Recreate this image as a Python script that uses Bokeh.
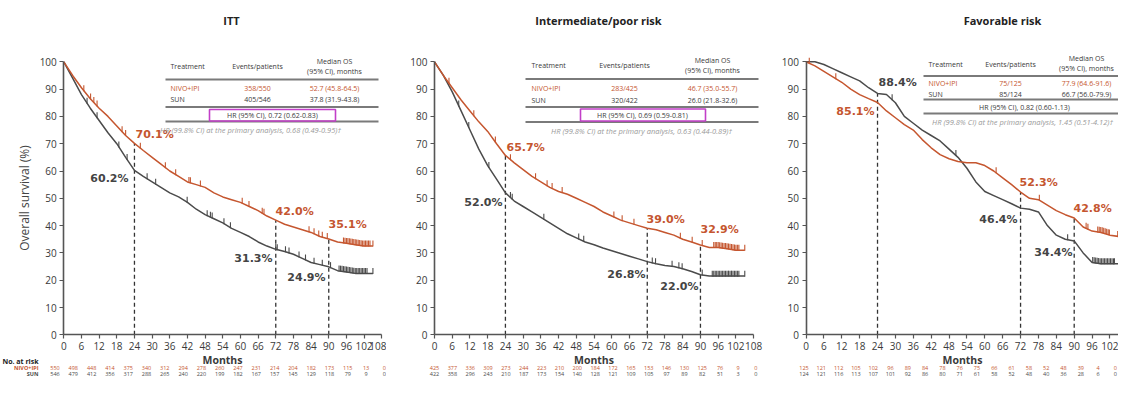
import numpy as np
from bokeh.plotting import figure
from bokeh.layouts import row
from bokeh.models import Range1d, FixedTicker
from bokeh.core.properties import value
from bokeh.embed import file_html
from bokeh.resources import INLINE

# ------------------------------------------------------------------ data
titles = ["ITT", "Intermediate/poor risk", "Favorable risk"]
arms = ["NIVO+IPI", "SUN"]

months = [0, 3, 6, 9, 12, 15, 18, 21, 24, 27, 30, 33, 36, 39, 42, 45, 48, 51,
          54, 57, 60, 63, 66, 69, 72, 75, 78, 81, 84, 87, 90, 93, 96, 99, 102, 105]

itt_nivo = [100, 95, 90.5, 86.5, 83, 80, 76.5, 73, 70.1, 67.5, 65, 62.5, 60, 58, 56, 55, 54, 52,
            50.5, 49.5, 48.5, 47, 45.5, 43.5, 42.0, 40.5, 39.5, 38.5, 37.5, 36, 35.1, 34, 33.5, 33, 32.5, 32.5]
itt_sun = [100, 94, 88, 83, 78.5, 74, 70, 65, 60.2, 58, 56, 54, 52, 50.5, 48.5, 46, 44, 42.5,
           41, 39, 37.5, 36, 34, 32.5, 31.3, 30.5, 29.5, 28, 26.5, 25.7, 24.9, 23.5, 23, 22.5, 22.5, 22.5]
ip_nivo = [100, 95, 90.5, 86, 82, 78, 74.5, 70, 65.7, 63, 60.5, 58, 56, 54, 52.5, 51.5, 50, 48.5,
           47, 45, 43.5, 42, 41, 40, 39.0, 38.5, 37.5, 36.5, 35, 34, 32.9, 32, 32, 31.5, 31, 31]
ip_sun = [100, 95, 89, 82, 75, 68, 62, 57, 52.0, 49, 47, 45, 43, 41, 39, 37, 35.5, 34,
          33, 31.8, 30.8, 29.8, 28.8, 27.8, 26.8, 26, 25.4, 25, 24.2, 23.2, 22.0, 21.5, 21.5, 21.5, 21.5, 21.5]
fav_nivo = [100, 98.5, 96.5, 94.5, 92.5, 90, 88, 86.5, 85.1, 82, 79.5, 77, 75, 71.5, 68.5, 66, 64.5, 63.5,
            63, 63, 62, 60, 57.5, 55, 52.3, 50, 49.5, 47.5, 45.5, 44, 42.8, 39.5, 38, 37.5, 36.5, 36]
fav_sun = [100, 100, 99, 97.5, 96, 94.5, 93, 90.5, 88.4, 88, 85, 80, 77.5, 75, 73, 71, 68, 65,
           61, 56, 52.5, 51, 49.5, 48, 46.4, 46, 45, 40, 36.5, 35, 34.4, 30, 26.5, 26, 26, 26]

# censored observations (months)
itt_nivo_cens = [6.8, 9.1, 10.2, 11.3, 19.8, 21, 26, 34.5, 38, 42.5, 43, 46.4, 60.6, 62.9, 67.4, 68,
                 83.3, 85, 86.6, 87.8, 89.5, 95, 95.5, 96, 96.5, 97, 97.5, 98, 98.5, 99, 99.5, 100,
                 100.5, 101, 101.5, 102, 102.5, 103, 103.5, 104, 105]
itt_sun_cens = [7.9, 11.3, 18.7, 21.5, 28.3, 31.2, 41.9, 48.7, 49.8, 50.4, 54.4, 56.6, 72, 72.5, 75.3,
                76.5, 79.9, 82.1, 85, 87.8, 90.6, 93.5, 94, 94.5, 95, 95.5, 96, 96.5, 97, 97.5, 98,
                98.5, 99, 99.5, 100, 100.5, 101, 101.5, 102, 102.5, 103, 105]
ip_nivo_cens = [4.9, 13.3, 20.6, 25.7, 34.2, 38.1, 39.8, 43.2, 60.7, 63.5, 67.5, 83.2, 87.2, 90.6,
                94.5, 95, 95.5, 96, 96.5, 97, 97.5, 98, 98.5, 99, 99.5, 100, 100.5, 101, 101.5, 102,
                102.5, 103, 105]
ip_sun_cens = [8.2, 11.6, 18.4, 25.7, 26.3, 37, 48.8, 50.5, 73.7, 74.8, 80.4, 82.7, 83.8, 90.6, 94,
               94.5, 95, 95.5, 96, 96.5, 97, 97.5, 98, 98.5, 99, 99.5, 100, 100.5, 101, 101.5, 102,
               102.5, 103, 105]
fav_nivo_cens = [1.1, 10, 63.8, 78.3, 94, 94.6, 97.9, 98.4, 98.9, 99.4, 99.9, 100.4, 100.9, 101.4,
                 101.8, 104.6]
fav_sun_cens = [28.9, 50.3, 87.8, 96.2, 96.7, 97.2, 97.7, 98.2, 98.7, 99.2, 99.7, 100.2, 100.7,
                101.2, 101.7, 102.2, 102.7, 103.2, 103.5]

landmark_months = [24, 72, 90]
itt_lm_nivo = [70.1, 42.0, 35.1]
itt_lm_sun = [60.2, 31.3, 24.9]
ip_lm_nivo = [65.7, 39.0, 32.9]
ip_lm_sun = [52.0, 26.8, 22.0]
fav_lm_nivo = [85.1, 52.3, 42.8]
fav_lm_sun = [88.4, 46.4, 34.4]

x_ticks = list(range(0, 109, 6))
y_ticks = list(range(0, 101, 10))

itt_risk_nivo = [550, 498, 448, 414, 375, 340, 312, 294, 278, 260, 247, 231, 214, 204, 182, 173, 115, 13, 0]
itt_risk_sun = [546, 479, 412, 356, 317, 288, 265, 240, 220, 199, 182, 167, 157, 145, 129, 118, 79, 9, 0]
ip_risk_nivo = [425, 377, 336, 309, 273, 244, 223, 210, 200, 184, 172, 165, 153, 146, 130, 125, 76, 9, 0]
ip_risk_sun = [422, 358, 296, 243, 210, 187, 173, 154, 140, 128, 121, 109, 105, 97, 89, 82, 51, 3, 0]
fav_risk_nivo = [125, 121, 112, 105, 102, 96, 89, 84, 78, 76, 75, 66, 61, 58, 52, 48, 39, 4, 0]
fav_risk_sun = [124, 121, 116, 113, 107, 101, 92, 86, 80, 71, 61, 58, 52, 48, 40, 36, 28, 6, 0]

table_head = ["Treatment", "Events/patients", "Median OS", "(95% CI), months"]
itt_events = ["358/550", "405/546"]
itt_median = ["52.7 (45.8-64.5)", "37.8 (31.9-43.8)"]
itt_hr = "HR (95% CI), 0.72 (0.62-0.83)"
itt_hr_primary = "HR (99.8% CI) at the primary analysis, 0.68 (0.49-0.95)\u2020"
ip_events = ["283/425", "320/422"]
ip_median = ["46.7 (35.0-55.7)", "26.0 (21.8-32.6)"]
ip_hr = "HR (95% CI), 0.69 (0.59-0.81)"
ip_hr_primary = "HR (99.8% CI) at the primary analysis, 0.63 (0.44-0.89)\u2020"
fav_events = ["75/125", "85/124"]
fav_median = ["77.9 (64.6-91.6)", "66.7 (56.0-79.9)"]
fav_hr = "HR (95% CI), 0.82 (0.60-1.13)"
fav_hr_primary = "HR (99.8% CI) at the primary analysis, 1.45 (0.51-4.12)\u2020"

# ------------------------------------------------------------------ styles / layout
ORANGE = "#c5562f"
GRAY = "#4b4b4b"
AXIS = "#555555"
TEXT = "#3a3a3a"
MAGENTA = "#c23fc8"
FONT = "Open Sans"
PFONT = "DejaVu Sans"

TOP, BOTTOM = 0, 378            # picture pixel extent (vertical)
Y0, PXU = 334.3, 2.73           # picture y of 0 %, pixels per %
RISK_Y = (367.5, 373.0)         # picture y of the two numbers-at-risk rows

geoms = [
    dict(left=0, right=386, x0=63.3, pxm=2.944, title_x=231,
         risk_x0=54.5, risk_dx=18.3,
         tab=dict(xl=165, xr=378, tl=170, ev=257, md=334, yh1=61, yh=66, yh2=70.5, l1=79,
                  yn=87.5, ys=98.5, l2=106.5, yhr=114.5, hrc=272, box=(209, 335, 109, 120.5),
                  l3=121, yit=129.5, itc=250),
         labels=[(135, 134, "left", 0, 0), (128, 178, "right", 1, 0), (275, 211, "left", 0, 1),
                 (272, 258, "right", 1, 1), (328, 224, "left", 0, 2), (325, 277, "right", 1, 2)]),
    dict(left=386, right=770, x0=434.0, pxm=2.955, title_x=598,
         risk_x0=434, risk_dx=17.85,
         tab=dict(xl=525, xr=758, tl=531, ev=624, md=712, yh1=60, yh=65, yh2=70, l1=78.5,
                  yn=87.5, ys=99.5, l2=106.5, yhr=114.5, hrc=642, box=(580, 705, 108.5, 120.5),
                  l3=121.5, yit=130, itc=641),
         labels=[(506, 147, "left", 0, 0), (502, 202, "right", 1, 0), (646, 219, "left", 0, 1),
                 (645, 274, "right", 1, 1), (700, 229, "left", 0, 2), (698, 286, "right", 1, 2)]),
    dict(left=770, right=1118, x0=805.5, pxm=2.98, title_x=1002,
         risk_x0=803.5, risk_dx=17.3,
         tab=dict(xl=923, xr=1118, tl=928, ev=1010, md=1086, yh1=58, yh=64, yh2=68, l1=75.5,
                  yn=82.5, ys=93.5, l2=99, yhr=106.5, hrc=1024, box=None,
                  l3=113, yit=121, itc=1022),
         labels=[(878, 82, "left", 1, 0), (874, 111, "right", 0, 0), (1019, 182, "left", 0, 1),
                 (1017, 219, "right", 1, 1), (1073, 208, "left", 0, 2), (1072, 252, "right", 1, 2)]),
]

panels = [
    (itt_nivo, itt_sun, itt_nivo_cens, itt_sun_cens, itt_lm_nivo, itt_lm_sun,
     itt_risk_nivo, itt_risk_sun, itt_events, itt_median, itt_hr, itt_hr_primary),
    (ip_nivo, ip_sun, ip_nivo_cens, ip_sun_cens, ip_lm_nivo, ip_lm_sun,
     ip_risk_nivo, ip_risk_sun, ip_events, ip_median, ip_hr, ip_hr_primary),
    (fav_nivo, fav_sun, fav_nivo_cens, fav_sun_cens, fav_lm_nivo, fav_lm_sun,
     fav_risk_nivo, fav_risk_sun, fav_events, fav_median, fav_hr, fav_hr_primary),
]


def build(i):
    g = geoms[i]
    (nivo, sun, ncens, scens, lmn, lms, rn, rs, events, median, hr, hrp) = panels[i]
    X = lambda px: (px - g["x0"]) / g["pxm"]
    Y = lambda py: (Y0 - py) / PXU

    p = figure(width=g["right"] - g["left"], height=BOTTOM - TOP,
               x_range=Range1d(X(g["left"]), X(g["right"])),
               y_range=Range1d(Y(BOTTOM), Y(TOP)),
               output_backend="svg", toolbar_location=None, min_border=0,
               outline_line_color=None, background_fill_color="white",
               border_fill_color="white")
    p.grid.visible = False

    def txt(px, py, s, size, color, align="center", style="normal", font=FONT):
        p.text(x=[X(px)], y=[Y(py)], text=[s], text_font=value(font),
               text_font_size=f"{size}px", text_color=color, text_align=align,
               text_baseline="middle", text_font_style=style)

    # axes
    xa, ya = p.xaxis[0], p.yaxis[0]
    xa.fixed_location = 0
    ya.fixed_location = 0
    xa.ticker = FixedTicker(ticks=x_ticks)
    ya.ticker = FixedTicker(ticks=y_ticks)
    xa.bounds = (0, 108)
    ya.bounds = (0, 100)
    for ax in (xa, ya):
        ax.axis_line_color = AXIS
        ax.axis_line_width = 1.6
        ax.major_tick_line_color = AXIS
        ax.major_tick_line_width = 1.2
        ax.major_tick_out = 4
        ax.major_tick_in = 0
        ax.minor_tick_line_color = None
        ax.major_label_text_font = FONT
        ax.major_label_text_font_size = "10px"
        ax.major_label_text_color = TEXT
        ax.major_label_standoff = 3
    xa.axis_label = "Months"
    xa.axis_label_text_font = FONT
    xa.axis_label_text_font_size = "10.5px"
    xa.axis_label_text_font_style = "bold"
    xa.axis_label_text_color = TEXT
    xa.axis_label_standoff = 0
    if i == 0:
        ya.axis_label = "Overall survival (%)"
        ya.axis_label_text_font = FONT
        ya.axis_label_text_font_size = "12px"
        ya.axis_label_text_font_style = "normal"
        ya.axis_label_text_color = "#444444"
        ya.axis_label_standoff = 3

    # title
    txt(g["title_x"], 20, titles[i], 11, "#222222", style="bold")

    # landmark dashed lines
    tops = [max(a, b) for a, b in zip(lmn, lms)]
    p.segment(x0=landmark_months, y0=[0] * 3, x1=landmark_months, y1=tops,
              line_color="#333333", line_width=1.3, line_dash="4 3")

    # curves
    p.line(x=months, y=sun, line_color=GRAY, line_width=1.5)
    p.line(x=months, y=nivo, line_color=ORANGE, line_width=1.5)
    p.scatter(x=scens, y=list(np.interp(scens, months, sun) + 0.9), marker="dash",
              angle=np.pi / 2, size=6, line_color=GRAY, line_width=1.1)
    p.scatter(x=ncens, y=list(np.interp(ncens, months, nivo) + 0.9), marker="dash",
              angle=np.pi / 2, size=6, line_color=ORANGE, line_width=1.1)

    # landmark labels
    for (px, py, al, arm, k) in g["labels"]:
        v = (lmn if arm == 0 else lms)[k]
        txt(px, py, f"{v:.1f}%", 11, ORANGE if arm == 0 else "#444444", align=al,
            style="bold", font=PFONT)

    # table
    t = g["tab"]
    txt(t["tl"], t["yh"], table_head[0], 7, TEXT, align="left")
    txt(t["ev"], t["yh"], table_head[1], 7, TEXT)
    txt(t["md"], t["yh1"], table_head[2], 7, TEXT)
    txt(t["md"], t["yh2"], table_head[3], 7, TEXT)
    for yy in (t["l1"], t["l2"], t["l3"]):
        p.segment(x0=[X(t["xl"])], y0=[Y(yy)], x1=[X(t["xr"])], y1=[Y(yy)],
                  line_color="#7a7a7a", line_width=1.8)
    for j, (yy, col) in enumerate(((t["yn"], ORANGE), (t["ys"], TEXT))):
        txt(t["tl"], yy, arms[j], 7, col, align="left")
        txt(t["ev"], yy, events[j], 7, col)
        txt(t["md"], yy, median[j], 7, col)
    txt(t["hrc"], t["yhr"], hr, 7, TEXT)
    if t["box"] is not None:
        l, r, tp, bt = t["box"]
        p.quad(left=[X(l)], right=[X(r)], top=[Y(tp)], bottom=[Y(bt)], fill_color=None,
               line_color=MAGENTA, line_width=1.6)
    txt(t["itc"], t["yit"], hrp, 7.5, "#9a9a9a", style="italic")

    # numbers at risk
    rx = [g["risk_x0"] + g["risk_dx"] * k for k in range(len(rn))]
    p.text(x=[X(v) for v in rx], y=[Y(RISK_Y[0])] * len(rn), text=[str(v) for v in rn],
           text_font=value(FONT), text_font_size="5.5px", text_color=ORANGE,
           text_align="center", text_baseline="middle")
    p.text(x=[X(v) for v in rx], y=[Y(RISK_Y[1])] * len(rs), text=[str(v) for v in rs],
           text_font=value(FONT), text_font_size="5.5px", text_color=GRAY,
           text_align="center", text_baseline="middle")
    if i == 0:
        txt(2, 361, "No. at risk", 7, "#222222", align="left", style="bold")
        txt(38, RISK_Y[0], arms[0], 5.5, ORANGE, align="right", style="bold")
        txt(38, RISK_Y[1], arms[1], 5.5, GRAY, align="right", style="bold")
    return p


layout = row(build(0), build(1), build(2))
open("out.html", "w").write(file_html(layout, INLINE))
